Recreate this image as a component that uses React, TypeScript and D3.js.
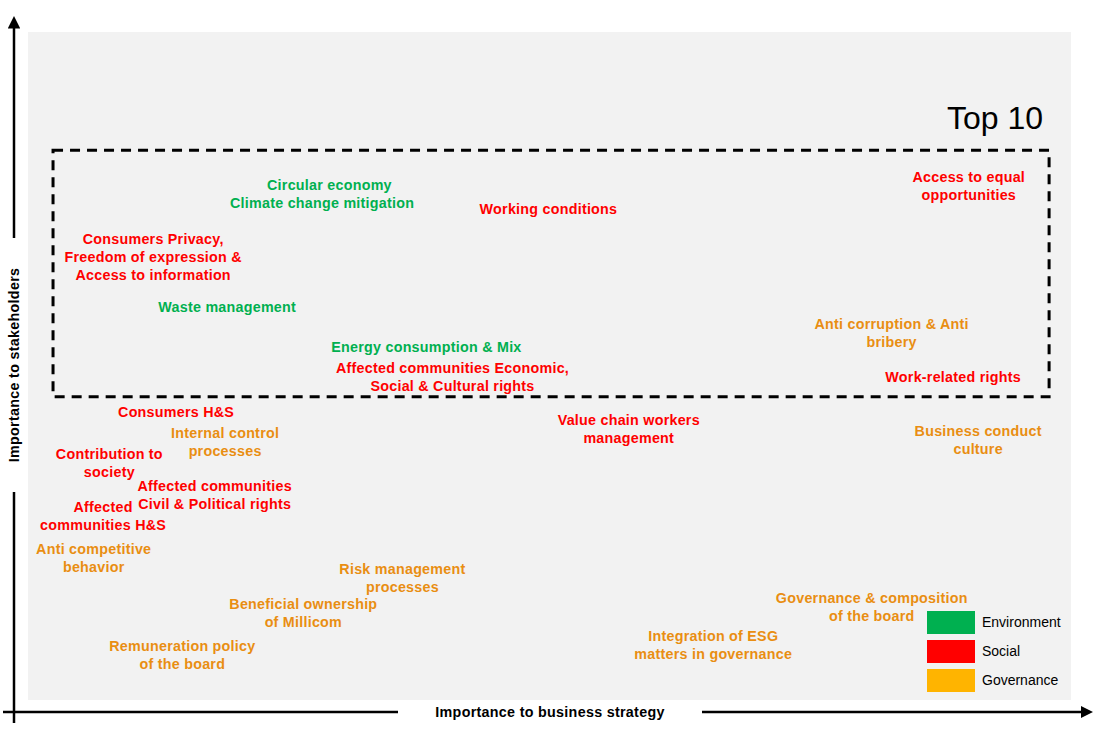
import React, { useEffect, useRef } from "react";
import * as d3 from "d3";

const W = 1109;
const H = 729;

// Issue labels (lines separated by "\n")
const issueLabels = [
  "Circular economy",
  "Climate change mitigation",
  "Working conditions",
  "Access to equal\nopportunities",
  "Consumers Privacy,\nFreedom of expression &\nAccess to information",
  "Waste management",
  "Anti corruption & Anti\nbribery",
  "Energy consumption & Mix",
  "Affected communities Economic,\nSocial & Cultural rights",
  "Work-related rights",
  "Consumers H&S",
  "Internal control\nprocesses",
  "Value chain workers\nmanagement",
  "Business conduct\nculture",
  "Contribution to\nsociety",
  "Affected communities\nCivil & Political rights",
  "Affected\ncommunities H&S",
  "Anti competitive\nbehavior",
  "Risk management\nprocesses",
  "Beneficial ownership\nof Millicom",
  "Governance & composition\nof the board",
  "Integration of ESG\nmatters in governance",
  "Remuneration policy\nof the board",
];
// Importance to business strategy (0-10)
const businessScores = [
  2.89, 2.82, 4.99, 9.02, 1.2, 1.91, 8.28, 3.82, 4.07, 8.87, 1.42, 1.89, 5.76,
  9.11, 0.78, 1.79, 0.72, 0.63, 3.59, 2.64, 8.09, 6.57, 1.48,
];
// Importance to stakeholders (0-10)
const stakeholderScores = [
  7.71, 7.44, 7.35, 7.69, 6.63, 5.88, 5.49, 5.28, 4.84, 4.84, 4.31, 3.86, 4.06,
  3.89, 3.55, 3.07, 2.75, 2.13, 1.83, 1.3, 1.39, 0.82, 0.67,
];
const issueCategories = [
  "Environment", "Environment", "Social", "Social", "Social", "Environment",
  "Governance", "Environment", "Social", "Social", "Social", "Governance",
  "Social", "Governance", "Social", "Social", "Social", "Governance",
  "Governance", "Governance", "Governance", "Governance", "Governance",
];

const legendCategories = ["Environment", "Social", "Governance"];
const legendColors = ["#00B050", "#FF0000", "#FFB400"];
const textColors = ["#00B050", "#FF0000", "#E98E12"];

// Top 10 zone in data units [x0, x1, y0, y1]
const top10Zone = [0.24, 9.79, 4.54, 8.23];

const FONT = "'Liberation Sans', Arial, sans-serif";

export default function App() {
  const ref = useRef<SVGSVGElement>(null);

  useEffect(() => {
    const svg = d3.select(ref.current);
    svg.selectAll("*").remove();

    const x = d3.scaleLinear().domain([0, 10]).range([28, 1071]);
    const y = d3.scaleLinear().domain([0, 10]).range([700, 32]);

    const textColor = d3.scaleOrdinal<string, string>().domain(legendCategories).range(textColors);
    const fillColor = d3.scaleOrdinal<string, string>().domain(legendCategories).range(legendColors);

    // background
    svg.append("rect").attr("x", x(0)).attr("y", y(10)).attr("width", x(10) - x(0)).attr("height", y(0) - y(10)).attr("fill", "#F2F2F2");

    // arrowhead marker
    const defs = svg.append("defs");
    defs.append("marker").attr("id", "arrow").attr("viewBox", "0 0 10 10").attr("refX", 2).attr("refY", 5)
      .attr("markerWidth", 5).attr("markerHeight", 5).attr("orient", "auto").attr("markerUnits", "strokeWidth")
      .append("path").attr("d", "M0,0 L10,5 L0,10 Z").attr("fill", "#000");

    // axes
    const ax = svg.append("g").attr("stroke", "#000").attr("stroke-width", 2.5);
    ax.append("line").attr("x1", 14).attr("x2", 14).attr("y1", 723).attr("y2", 492);
    ax.append("line").attr("x1", 14).attr("x2", 14).attr("y1", 238).attr("y2", 26).attr("marker-end", "url(#arrow)");
    ax.append("line").attr("x1", 3).attr("x2", 398).attr("y1", 712).attr("y2", 712);
    ax.append("line").attr("x1", 702).attr("x2", 1083).attr("y1", 712).attr("y2", 712).attr("marker-end", "url(#arrow)");

    svg.append("text").attr("x", 550).attr("y", 717).attr("text-anchor", "middle")
      .attr("font-family", FONT).attr("font-weight", "bold").attr("font-size", 14.3).attr("letter-spacing", 0.3).attr("fill", "#000")
      .text("Importance to business strategy");
    svg.append("text").attr("transform", "translate(19,365) rotate(-90)").attr("text-anchor", "middle")
      .attr("font-family", FONT).attr("font-weight", "bold").attr("font-size", 14.3).attr("letter-spacing", 0.3).attr("fill", "#000")
      .text("Importance to stakeholders");

    // top 10 zone
    svg.append("rect")
      .attr("x", x(top10Zone[0])).attr("y", y(top10Zone[3]))
      .attr("width", x(top10Zone[1]) - x(top10Zone[0])).attr("height", y(top10Zone[2]) - y(top10Zone[3]))
      .attr("fill", "none").attr("stroke", "#000").attr("stroke-width", 3).attr("stroke-dasharray", "10,7");
    svg.append("text").attr("x", 1043).attr("y", 129).attr("text-anchor", "end")
      .attr("font-family", FONT).attr("font-size", 32).attr("fill", "#000").text("Top 10");

    // labels
    const data = issueLabels.map((l, i) => ({
      lines: l.split("\n"),
      bx: businessScores[i],
      sy: stakeholderScores[i],
      cat: issueCategories[i],
    }));
    const lh = 18;
    const g = svg.append("g").attr("font-family", FONT).attr("font-weight", "bold").attr("font-size", 14.3)
      .attr("letter-spacing", 0.25).attr("text-anchor", "middle");
    data.forEach((d) => {
      const t = g.append("text").attr("fill", textColor(d.cat));
      const n = d.lines.length;
      d.lines.forEach((line, j) => {
        t.append("tspan").attr("x", x(d.bx)).attr("y", y(d.sy) + (j - (n - 1) / 2) * lh + 5).text(line);
      });
    });

    // legend
    const lg = svg.append("g");
    legendCategories.forEach((c, i) => {
      lg.append("rect").attr("x", 927).attr("y", 611 + i * 29).attr("width", 48).attr("height", 23).attr("fill", fillColor(c));
      lg.append("text").attr("x", 982).attr("y", 627 + i * 29).attr("font-family", FONT).attr("font-size", 14)
        .attr("fill", "#000").text(c);
    });
  }, []);

  return (
    <svg ref={ref} width={W} height={H} style={{ position: "absolute", left: 0, top: 0, background: "#fff" }} />
  );
}
